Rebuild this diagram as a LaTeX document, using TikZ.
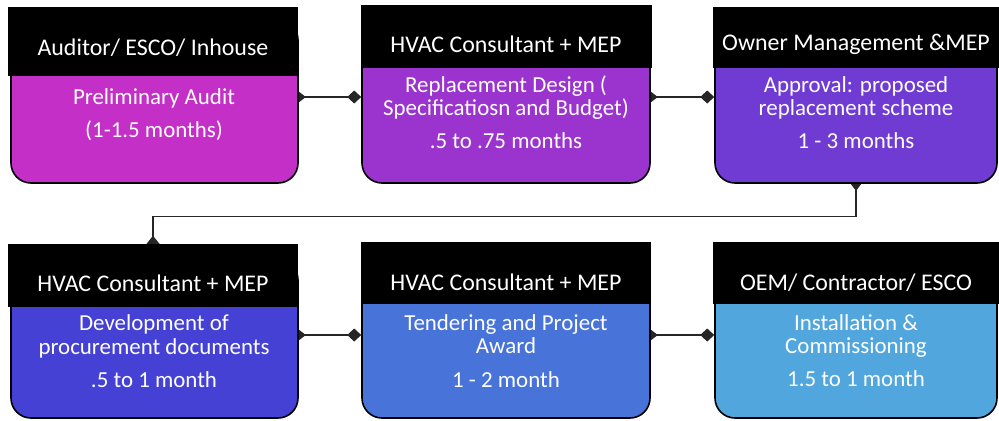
\documentclass[tikz,border=0pt]{standalone}
\usepackage{fontspec}
\setmainfont{Carlito}
\usetikzlibrary{arrows.meta,backgrounds,fit}
\definecolor{c1}{HTML}{C430C7}
\definecolor{c2}{HTML}{9B33CE}
\definecolor{c3}{HTML}{6F3BD2}
\definecolor{c4}{HTML}{4441D4}
\definecolor{c5}{HTML}{4873D9}
\definecolor{c6}{HTML}{50A6DD}
\begin{document}
\begin{tikzpicture}[x=1bp,y=-1bp,
  body/.style={draw=black, line width=1.6bp, rounded corners=20bp, inner sep=0pt},
  head/.style={fill=black, inner sep=0pt},
  htxt/.style={text=white, font=\fontsize{24}{28}\selectfont, anchor=base, inner sep=0pt},
  btxt/.style={text=white, font=\fontsize{23}{27}\selectfont, anchor=base, inner sep=0pt},
  conn/.style={line width=1.2bp, draw=black!85,
    {Diamond[length=13bp,width=10bp]}-{Diamond[length=14bp,width=13bp]}},
  connv/.style={line width=1.2bp, draw=black!85,
    {Diamond[length=13bp,width=10bp]}-{Diamond[length=16bp,width=13bp]}}]
\useasboundingbox (0,0) rectangle (999,420);
% top row
\node[body, fill=c1, fit={(11,20) (298,183)}] (b1) {};
\node[body, fill=c2, fit={(362,20) (650,183)}] (b2) {};
\node[body, fill=c3, fit={(715,20) (997,183)}] (b3) {};
\node[head, fit={(8,7) (298,76)}] (h1) {};
\node[head, fit={(361,5) (652,68)}] (h2) {};
\node[head, fit={(713,7) (999,68)}] (h3) {};
% bottom row
\node[body, fill=c4, fit={(11,260) (298,418)}] (b4) {};
\node[body, fill=c5, fit={(362,260) (650,418)}] (b5) {};
\node[body, fill=c6, fit={(715,260) (997,418)}] (b6) {};
\node[head, fit={(8,244) (298,307)}] (h4) {};
\node[head, fit={(361,242) (651,304)}] (h5) {};
\node[head, fit={(713,242) (999,304)}] (h6) {};
% header texts
\node[htxt] (h1t) at (153,55) {Auditor/ ESCO/ Inhouse};
\node[htxt] (h2t) at (506,52) {HVAC Consultant + MEP};
\node[htxt] (h3t) at (856,50) {Owner Management \&MEP};
\node[htxt] (h4t) at (153,291) {HVAC Consultant + MEP};
\node[htxt] (h5t) at (506,290) {HVAC Consultant + MEP};
\node[htxt] (h6t) at (856,290) {OEM/ Contractor/ ESCO};
% body texts
\node[btxt] (t1a) at (154,104) {Preliminary Audit};
\node[btxt] (t1b) at (154,137) {(1-1.5 months)};
\node[btxt] (t2a) at (506,92) {Replacement Design (};
\node[btxt] (t2b) at (506,115) {Specificatiosn and Budget)};
\node[btxt] (t2c) at (506,148) {.5 to .75 months};
\node[btxt] (t3a) at (856,92) {Approval: proposed};
\node[btxt] (t3b) at (856,115) {replacement scheme};
\node[btxt] (t3c) at (856,148) {1 - 3 months};
\node[btxt] (t4a) at (154,330) {Development of};
\node[btxt] (t4b) at (154,354) {procurement documents};
\node[btxt] (t4c) at (154,387) {.5 to 1 month};
\node[btxt] (t5a) at (506,330) {Tendering and Project};
\node[btxt] (t5b) at (506,353) {Award};
\node[btxt] (t5c) at (506,387) {1 - 2 month};
\node[btxt] (t6a) at (856,330) {Installation \&};
\node[btxt] (t6b) at (856,353) {Commissioning};
\node[btxt] (t6c) at (856,386) {1.5 to 1 month};
% connectors
\begin{pgfonlayer}{background}
\draw[conn] ([xshift=-6bp]b1.east |- 0,97) -- (b2.west |- 0,97);
\draw[conn] ([xshift=-6bp]b2.east |- 0,97) -- (b3.west |- 0,97);
\draw[connv] ([yshift=6bp]b3.south) -- ++(0,39) -| ([yshift=-8bp]h4.north);
\draw[conn] ([xshift=-6bp]b4.east |- 0,335) -- (b5.west |- 0,335);
\draw[conn] ([xshift=-6bp]b5.east |- 0,335) -- (b6.west |- 0,335);
\end{pgfonlayer}
\end{tikzpicture}
\end{document}
